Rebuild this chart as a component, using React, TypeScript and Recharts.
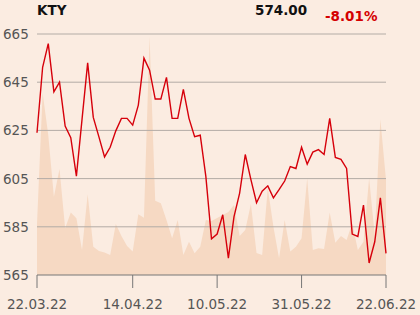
import { Area, ComposedChart, Line, ReferenceLine, XAxis, YAxis } from 'recharts'

const dates = [
  '22.03.22', '23.03.22', '24.03.22', '25.03.22', '28.03.22', '29.03.22', '30.03.22', '31.03.22',
  '01.04.22', '04.04.22', '05.04.22', '06.04.22', '07.04.22', '08.04.22', '11.04.22', '12.04.22',
  '13.04.22', '14.04.22', '19.04.22', '20.04.22', '21.04.22', '22.04.22', '25.04.22', '26.04.22',
  '27.04.22', '28.04.22', '29.04.22', '02.05.22', '04.05.22', '05.05.22', '06.05.22', '09.05.22',
  '10.05.22', '11.05.22', '12.05.22', '13.05.22', '16.05.22', '17.05.22', '18.05.22', '19.05.22',
  '20.05.22', '23.05.22', '24.05.22', '25.05.22', '26.05.22', '27.05.22', '30.05.22', '31.05.22',
  '01.06.22', '02.06.22', '03.06.22', '06.06.22', '07.06.22', '08.06.22', '09.06.22', '10.06.22',
  '13.06.22', '14.06.22', '15.06.22', '17.06.22', '20.06.22', '21.06.22', '22.06.22',
]

const prices = [
  624.0, 651.2, 661.0, 641.0, 645.0, 626.8, 622.0, 606.0, 629.6, 653.0,
  630.4, 622.3, 614.0, 618.0, 624.8, 630.0, 630.0, 627.2, 635.5, 655.0,
  650.0, 638.0, 638.0, 647.0, 630.0, 630.0, 642.0, 630.0, 622.4, 623.0,
  605.8, 580.0, 582.0, 590.0, 572.0, 589.2, 599.0, 615.0, 604.6, 595.0,
  599.8, 602.0, 597.0, 600.4, 604.0, 610.0, 609.2, 618.0, 611.0, 616.0,
  617.0, 615.0, 630.0, 613.8, 613.0, 609.2, 582.0, 581.0, 594.0, 570.0,
  578.8, 597.0, 574.0,
]

// volume, relative units (only the shape matters)
const volumes = [
  21.2, 75.5, 58.1, 32.5, 44.0, 19.4, 25.9, 23.5, 10.4, 33.5,
  11.7, 10.0, 9.3, 8.3, 21.2, 16.2, 12.0, 9.7, 25.2, 23.8,
  98.9, 30.8, 29.8, 22.8, 15.2, 22.8, 8.3, 13.8, 9.0, 11.7,
  22.8, 22.4, 23.7, 24.9, 26.1, 29.0, 16.2, 18.7, 29.5, 9.1,
  8.3, 36.1, 20.0, 6.9, 22.8, 9.7, 11.7, 15.2, 40.1, 10.4,
  11.1, 10.8, 25.9, 13.4, 16.2, 14.5, 21.5, 10.4, 13.8, 40.1,
  16.6, 64.6, 39.4,
]

const xTicks = ['22.03.22', '14.04.22', '10.05.22', '31.05.22', '22.06.22']
const yTicks = [565, 585, 605, 625, 645, 665]

const data = dates.map((d, i) => ({ date: d, price: prices[i], vol: volumes[i] }))

const YTick = ({ y, payload }: any) => (
  <text x={3} y={y} dy={5} fill="#555" fontSize={13.5}>
    {payload.value}
  </text>
)

export default function App() {
  return (
    <div
      style={{
        position: 'absolute', left: 0, top: 0, width: 420, height: 315,
        background: '#fbece1', fontFamily: 'DejaVu Sans', overflow: 'hidden',
      }}
    >
      <ComposedChart width={420} height={315} data={data} margin={{ top: 34, right: 34, bottom: 0, left: 0 }}>
        <XAxis
          dataKey="date"
          ticks={xTicks}
          interval={0}
          height={40}
          tickSize={13}
          tickMargin={11}
          stroke="#777"
          tick={{ fill: '#555', fontSize: 13.5 }}
        />
        <YAxis
          yAxisId="price"
          domain={[565, 665]}
          ticks={yTicks}
          width={37}
          axisLine={false}
          tickLine={false}
          tick={<YTick />}
        />
        <YAxis yAxisId="vol" domain={[0, 100]} hide />
        <Area
          yAxisId="vol"
          dataKey="vol"
          type="linear"
          stroke="none"
          fill="#f6d9c3"
          fillOpacity={1}
          isAnimationActive={false}
        />
        {yTicks.slice(1).map((t) => (
          <ReferenceLine key={t} yAxisId="price" y={t} stroke="#b3aca6" strokeWidth={1} />
        ))}
        <Line
          yAxisId="price"
          dataKey="price"
          type="linear"
          stroke="#d6000b"
          strokeWidth={1.4}
          dot={false}
          isAnimationActive={false}
        />
      </ComposedChart>
      <svg width={420} height={30} style={{ position: 'absolute', left: 0, top: 0 }}>
        <text x={37} y={15} fontSize={13.5} fontWeight="bold" fill="#111">KTY</text>
        <text x={255} y={14.5} fontSize={13.5} fontWeight="bold" fill="#111">574.00</text>
        <text x={325} y={21} fontSize={13.5} fontWeight="bold" fill="#d40000">-8.01%</text>
      </svg>
    </div>
  )
}
